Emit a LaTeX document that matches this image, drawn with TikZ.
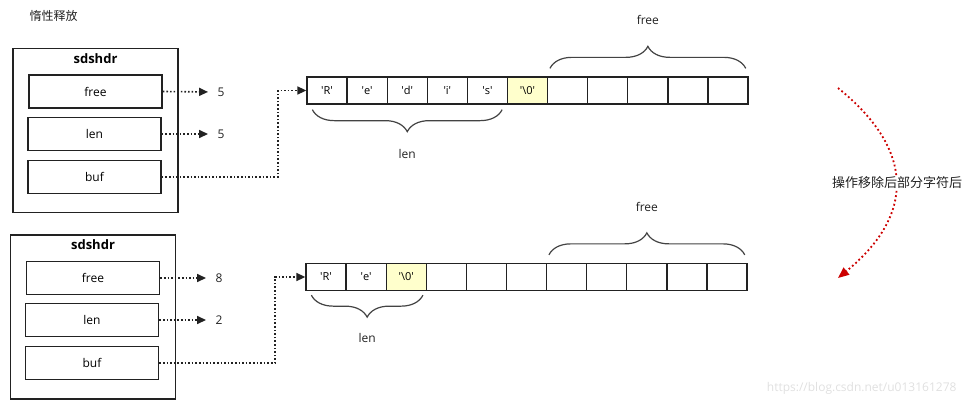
\documentclass[tikz,border=0pt]{standalone}
\usepackage{fontspec}
\setmainfont{Open Sans}
\newfontfamily\cjk{Noto Sans CJK SC}
\usetikzlibrary{arrows.meta,calc,positioning,decorations.pathreplacing}
\definecolor{Frame}{HTML}{222222}
\definecolor{Nul}{HTML}{FFFFCC}
\definecolor{Move}{HTML}{CC0000}
\newcommand{\sq}[1]{\textquotesingle#1\textquotesingle}

\begin{document}
\begin{tikzpicture}[x=1pt,y=-1pt,
        header/.style={draw=Frame,line width=1.8pt,minimum width=165pt,minimum height=164pt},
        field/.style={draw=Frame,line width=1.6pt,minimum width=133pt,minimum height=33pt,font=\fontsize{12}{14}\selectfont},
        cell/.style={draw=Frame,line width=1.3pt,minimum width=40.1pt,minimum height=27pt,inner sep=0pt,font=\fontsize{11}{13}\selectfont},
        ptr/.style={draw=Frame,line width=1.6pt,dash pattern=on 1.6pt off 2pt,-{Triangle[length=9pt,width=8pt]}},
        grp/.style={draw=Frame!85,line width=1.2pt,decorate,decoration={brace,amplitude=22pt}},
        txt/.style={font=\fontsize{12}{14}\selectfont,text=Frame}]
  \useasboundingbox (0,0) rectangle (968,407);
  \node[txt,anchor=west] (title) at (26,16) {\cjk 惰性释放};

  % before: 'Redis'
  \node[header] (hdr1) at (95.5,130.5) {};
  \node[below=2pt of hdr1.north,font=\bfseries\fontsize{13}{15}\selectfont] (name1) {sdshdr};
  \node[field] (free1) at (95.5,91.5) {free};
  \node[field] (len1) at (94.5,134) {len};
  \node[field] (buf1) at (94.5,177) {buf};
  \node[txt] (vfree1) at (221,92) {5};
  \node[txt] (vlen1) at (221,134) {5};
  \draw[ptr,shorten >=6pt] (free1.east) -- (vfree1.west);
  \draw[ptr,shorten >=6pt] (len1.east) -- (vlen1.west);

  \foreach \i in {1,...,11}{
    \ifnum\i=6 \def\bg{Nul}\else\def\bg{white}\fi
    \node[cell,fill=\bg] (a\i) at ({307+40.1*(\i-0.5)},90.5) {};
  }
  \foreach \c [count=\i] in {R,e,d,i,s}
    \node[cell,draw=none] (ta\i) at (a\i) {\sq{\c}};
  \node[cell,draw=none] (ta6) at (a6) {\sq{\textbackslash0}};

  \coordinate (bend1) at (278,177);
  \draw[ptr] (buf1.east) -- (bend1) |- (a1.west);

  \draw[grp,decoration={mirror}] ([shift={(6,5)}]a1.south west) -- ([shift={(-6,5)}]a5.south east)
    node[midway,yshift=-44pt,txt] (lenlbl1) {len};
  \draw[grp] ([shift={(3,-8)}]a7.north west) -- ([shift={(-3,-8)}]a11.north east)
    node[midway,yshift=48pt,txt] (freelbl1) {free};

  % after: 'Re'
  \node[header] (hdr2) at (93,317) {};
  \node[below=2pt of hdr2.north,font=\bfseries\fontsize{13}{15}\selectfont] (name2) {sdshdr};
  \node[field] (free2) at (93,278) {free};
  \node[field] (len2) at (92,320) {len};
  \node[field] (buf2) at (92,363) {buf};
  \node[txt] (vfree2) at (219,278) {8};
  \node[txt] (vlen2) at (219,320) {2};
  \draw[ptr,shorten >=6pt] (free2.east) -- (vfree2.west);
  \draw[ptr,shorten >=6pt] (len2.east) -- (vlen2.west);

  \foreach \i in {1,...,11}{
    \ifnum\i=3 \def\bg{Nul}\else\def\bg{white}\fi
    \node[cell,fill=\bg] (b\i) at ({306+40.1*(\i-0.5)},277) {};
  }
  \foreach \c [count=\i] in {R,e}
    \node[cell,draw=none] (tb\i) at (b\i) {\sq{\c}};
  \node[cell,draw=none] (tb3) at (b3) {\sq{\textbackslash0}};

  \coordinate (bend2) at (275,363);
  \draw[ptr] (buf2.east) -- (bend2) |- (b1.west);

  \draw[grp,decoration={mirror}] ([shift={(6,4)}]b1.south west) -- ([shift={(-4,4)}]b3.south east)
    node[midway,yshift=-43pt,txt] (lenlbl2) {len};
  \draw[grp] ([shift={(3,-8)}]b7.north west) -- ([shift={(-3,-8)}]b11.north east)
    node[midway,yshift=48pt,txt] (freelbl2) {free};

  % red move arrow
  \coordinate (from) at (838,88);
  \coordinate (to) at (838,278);
  \draw[Move,line width=1.8pt,dash pattern=on 1.8pt off 2.6pt,-{Triangle[length=11pt,width=9pt]}]
    (from) .. controls (915,150) and (915,215) .. (to);
  \node[txt,fill=white,inner sep=1pt,font=\fontsize{13}{15}\selectfont] (note) at (897,183) {\cjk 操作移除后部分字符后};

  \node[anchor=east,text=black!12,font=\fontsize{12}{14}\selectfont] (mark) at (960,388) {https://blog.csdn.net/u013161278};
\end{tikzpicture}
\end{document}
